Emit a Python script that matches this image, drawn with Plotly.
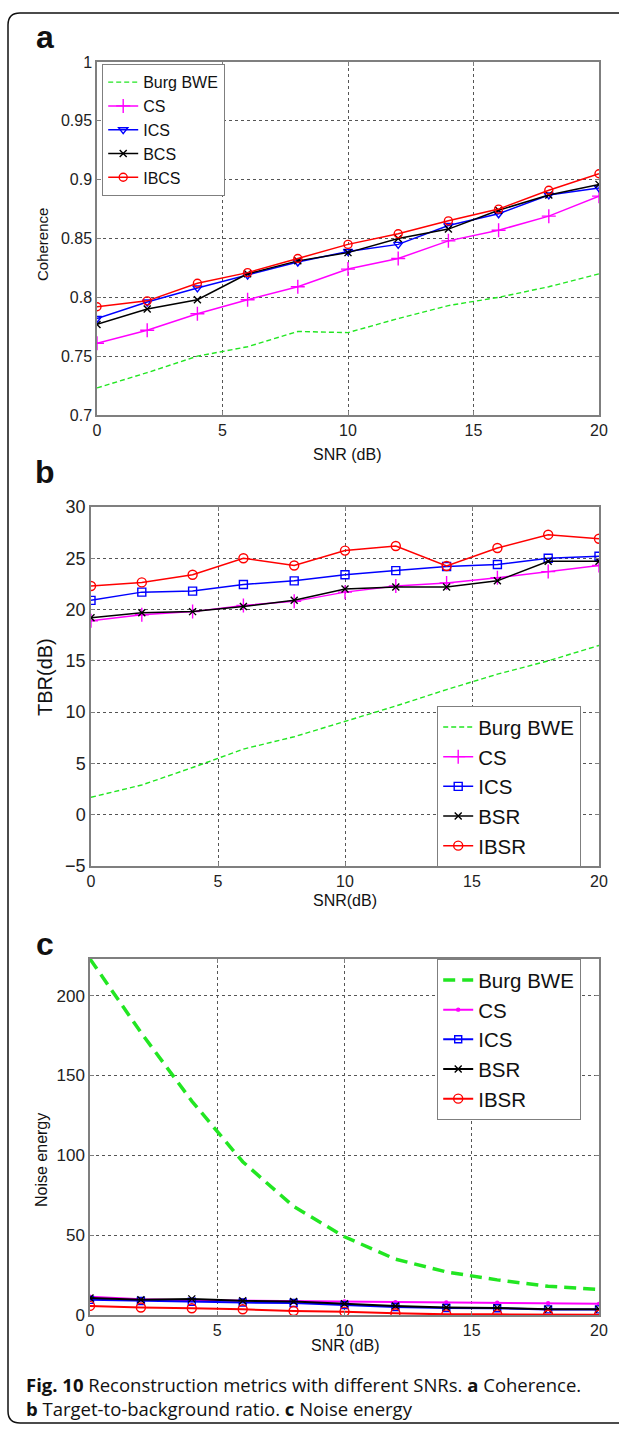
import plotly.graph_objects as go

# SNR sweep (dB)
snr = [0, 2, 4, 6, 8, 10, 12, 14, 16, 18, 20]

# (a) Coherence
coh_burg = [0.723, 0.736, 0.750, 0.758, 0.771, 0.770, 0.782, 0.793, 0.800, 0.809, 0.820]
coh_cs = [0.761, 0.772, 0.786, 0.798, 0.809, 0.824, 0.833, 0.848, 0.857, 0.869, 0.886]
coh_ics = [0.782, 0.796, 0.808, 0.819, 0.830, 0.839, 0.845, 0.861, 0.871, 0.887, 0.893]
coh_bcs = [0.777, 0.790, 0.798, 0.820, 0.831, 0.838, 0.850, 0.858, 0.874, 0.887, 0.896]
coh_ibcs = [0.792, 0.797, 0.812, 0.821, 0.833, 0.845, 0.854, 0.865, 0.875, 0.891, 0.905]

# (b) Target-to-background ratio (dB)
tbr_burg = [1.7, 2.9, 4.6, 6.4, 7.6, 9.1, 10.6, 12.2, 13.7, 15.0, 16.5]
tbr_cs = [18.9, 19.5, 19.8, 20.4, 20.8, 21.7, 22.3, 22.6, 23.1, 23.7, 24.3]
tbr_ics = [20.9, 21.7, 21.8, 22.45, 22.8, 23.4, 23.8, 24.2, 24.4, 25.0, 25.2]
tbr_bsr = [19.2, 19.7, 19.8, 20.3, 20.9, 22.0, 22.2, 22.2, 22.8, 24.7, 24.7]
tbr_ibsr = [22.3, 22.65, 23.4, 25.0, 24.3, 25.75, 26.2, 24.25, 26.0, 27.3, 26.9]

# (c) Noise energy
ne_burg = [223, 177, 134, 96, 68, 49, 35, 27, 22, 18, 16]
ne_cs = [11.5, 9.8, 9.3, 9.0, 8.7, 8.5, 8.0, 7.8, 7.7, 7.4, 7.0]
ne_ics = [9.5, 8.8, 8.3, 7.8, 7.5, 6.2, 5.0, 4.4, 4.2, 3.5, 3.5]
ne_bsr = [10.6, 9.5, 10.1, 8.9, 8.5, 7.0, 5.7, 4.7, 4.4, 3.6, 3.6]
ne_ibsr = [5.7, 4.7, 4.2, 3.6, 2.5, 2.1, 1.1, 0.4, 0.4, 0.2, 0.1]

names_a = ["Burg BWE", "CS", "ICS", "BCS", "IBCS"]
names_bc = ["Burg BWE", "CS", "ICS", "BSR", "IBSR"]

W, H = 619, 1430


def fx(p):
    return p / W


def fy(p):
    return 1 - p / H


GREEN = "#22e622"
MAG = "#ff00ff"
BLUE = "#0000ff"
BLACK = "#000000"
RED = "#ff0000"
FONT = "Liberation Sans, Arial, sans-serif"

fig = go.Figure()


def add_series(y, name, color, symbol, xa, ya, legend, lw, msize, dash=None, mode="lines+markers"):
    fig.add_trace(go.Scatter(
        x=snr, y=y, name=name, mode=mode,
        line=dict(color=color, width=lw, dash=dash),
        marker=dict(symbol=symbol, size=msize, color=color,
                    line=dict(color=color, width=1.4)),
        xaxis=xa, yaxis=ya, legend=legend,
    ))


# panel a
add_series(coh_burg, names_a[0], GREEN, None, "x", "y", "legend", 1.4, 6, dash="5px,3px", mode="lines")
add_series(coh_cs, names_a[1], MAG, "cross-thin-open", "x", "y", "legend", 1.5, 10)
add_series(coh_ics, names_a[2], BLUE, "triangle-down-open", "x", "y", "legend", 1.5, 8)
add_series(coh_bcs, names_a[3], BLACK, "x-thin-open", "x", "y", "legend", 1.5, 7)
add_series(coh_ibcs, names_a[4], RED, "circle-open", "x", "y", "legend", 1.5, 8)

# panel b
add_series(tbr_burg, names_bc[0], GREEN, None, "x2", "y2", "legend2", 1.4, 6, dash="5px,3px", mode="lines")
add_series(tbr_cs, names_bc[1], MAG, "cross-thin-open", "x2", "y2", "legend2", 1.5, 10)
add_series(tbr_ics, names_bc[2], BLUE, "square-open", "x2", "y2", "legend2", 1.5, 8)
add_series(tbr_bsr, names_bc[3], BLACK, "x-thin-open", "x2", "y2", "legend2", 1.5, 7)
add_series(tbr_ibsr, names_bc[4], RED, "circle-open", "x2", "y2", "legend2", 1.5, 9)

# panel c
add_series(ne_burg, names_bc[0], GREEN, None, "x3", "y3", "legend3", 3.5, 6, dash="12px,7px", mode="lines")
add_series(ne_cs, names_bc[1], MAG, "circle", "x3", "y3", "legend3", 2, 3)
add_series(ne_ics, names_bc[2], BLUE, "square-open", "x3", "y3", "legend3", 2, 7)
add_series(ne_bsr, names_bc[3], BLACK, "x-thin-open", "x3", "y3", "legend3", 2, 7)
add_series(ne_ibsr, names_bc[4], RED, "circle-open", "x3", "y3", "legend3", 2, 9)

panels = {
    "a": dict(l=97, r=599, t=62, b=415),
    "b": dict(l=91, r=599, t=507, b=866),
    "c": dict(l=90, r=599, t=959, b=1315),
}

common = dict(
    showline=True, mirror="ticks", linecolor="#7f7f7f", linewidth=1.5,
    ticks="inside", ticklen=4, tickcolor="#7f7f7f",
    showgrid=True, gridcolor="#555555", griddash="dot", gridwidth=1,
    zeroline=False, automargin=False,
    tickfont=dict(family=FONT, size=16, color="#222222"),
)


def xax(p, anchor):
    d = dict(common)
    d.update(domain=[fx(p["l"]), fx(p["r"])], range=[0, 20], tickvals=[0, 5, 10, 15, 20], anchor=anchor)
    return d


def yax(p, anchor, rng, tv, size):
    d = dict(common)
    d.update(domain=[fy(p["b"]), fy(p["t"])], range=rng, tickvals=tv, anchor=anchor)
    d["tickfont"] = dict(family=FONT, size=size, color="#222222")
    return d


legend_common = dict(
    bgcolor="white", bordercolor="#7f7f7f", borderwidth=1.2,
    xanchor="left", yanchor="top", tracegroupgap=0, itemwidth=30,
)

fig.update_layout(
    width=W, height=H,
    margin=dict(l=0, r=0, t=0, b=0),
    paper_bgcolor="white", plot_bgcolor="white",
    xaxis=xax(panels["a"], "y"),
    yaxis=yax(panels["a"], "x", [0.7, 1.0], [0.7, 0.75, 0.8, 0.85, 0.9, 0.95, 1.0], 16),
    xaxis2=xax(panels["b"], "y2"),
    yaxis2=yax(panels["b"], "x2", [-5, 30], [-5, 0, 5, 10, 15, 20, 25, 30], 18),
    xaxis3=xax(panels["c"], "y3"),
    yaxis3=yax(panels["c"], "x3", [0, 223], [0, 50, 100, 150, 200], 17),
    legend=dict(legend_common, x=fx(102), y=fy(64),
                font=dict(family=FONT, size=16, color="#111111")),
    legend2=dict(legend_common, x=fx(437), y=fy(706),
                 font=dict(family=FONT, size=20.5, color="#111111")),
    legend3=dict(legend_common, x=fx(437), y=fy(959),
                 font=dict(family=FONT, size=20.5, color="#111111")),
    showlegend=True,
)

annotations = []


def text(x, y, s, size, angle=0, family=FONT, xanchor="center", align="center"):
    annotations.append(dict(
        x=fx(x), y=fy(y), xref="paper", yref="paper", text=s, showarrow=False,
        textangle=angle, xanchor=xanchor, yanchor="middle", align=align,
        font=dict(family=family, size=size, color="#111111"),
    ))


# panel letters
text(45, 37, "<b>a</b>", 32)
text(45, 472, "<b>b</b>", 32)
text(45, 944, "<b>c</b>", 32)

# axis titles
text(347, 454, "SNR (dB)", 16)
text(345, 900, "SNR(dB)", 16)
text(345, 1345, "SNR (dB)", 16)
text(42, 245, "Coherence", 15, angle=-90)
text(45, 677, "TBR(dB)", 20, angle=-90)
text(41, 1160, "Noise energy", 16, angle=-90)

# caption (two lines in one block)
CAP = "Open Sans, Noto Sans, sans-serif"
text(24, 1396,
     "<b>Fig. 10</b> Reconstruction metrics with different SNRs. <b>a</b> Coherence."
     "<br><b>b</b> Target-to-background ratio. <b>c</b> Noise energy",
     18.5, family=CAP, xanchor="left", align="left")

fig.update_layout(annotations=annotations)

# rounded frame around the whole figure
L, T, R, B, rad = 8, 13, 640, 1423, 12
path = (
    f"M {fx(R)},{fy(T)} L {fx(L + rad)},{fy(T)} Q {fx(L)},{fy(T)} {fx(L)},{fy(T + rad)} "
    f"L {fx(L)},{fy(B - rad)} Q {fx(L)},{fy(B)} {fx(L + rad)},{fy(B)} L {fx(R)},{fy(B)}"
)
fig.add_shape(type="path", path=path, xref="paper", yref="paper",
              line=dict(color="#111111", width=1.5))

fig.write_html("out.html")
